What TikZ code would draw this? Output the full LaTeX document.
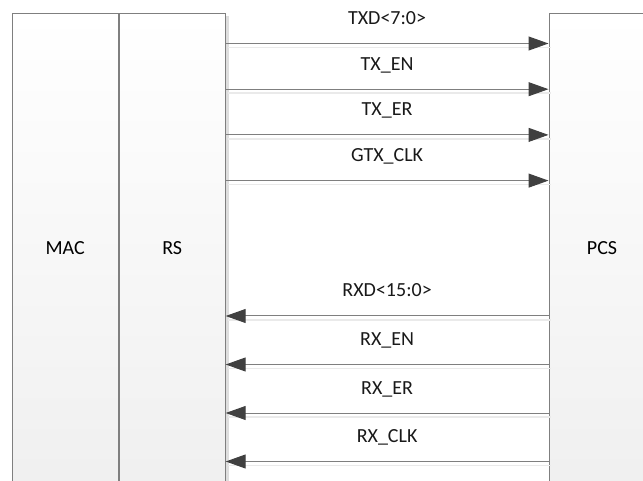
\documentclass[tikz,border=0pt]{standalone}
\usepackage{fontspec}
\setmainfont{Carlito}
\usetikzlibrary{positioning,arrows.meta,shadows}

\definecolor{boxgray}{HTML}{7F7F7F}
\definecolor{tipgray}{HTML}{404040}
\definecolor{shadowgray}{HTML}{EAEAEA}

\begin{document}
\begin{tikzpicture}[
    x=1pt, y=-1pt,
    font=\fontsize{20}{24}\selectfont,
    block/.style={rectangle, draw=boxgray, line width=1pt, minimum width=106pt, minimum height=470pt,
        top color=white, bottom color=black!6, inner sep=0pt,
        drop shadow={shadow xshift=3.5pt, shadow yshift=-3pt, fill=black!13, opacity=1}},
    line/.style={draw=boxgray, line width=1pt},
    tip/.style={-{Triangle[length=20pt, width=14pt, color=tipgray]}},
    tip back/.style={{Triangle[length=20pt, width=14pt, color=tipgray]}-},
    line shadow/.style={draw=shadowgray, line width=1.5pt, transform canvas={shift={(2pt,-4pt)}}},
    edge label/.style={midway, anchor=base, yshift=19pt, inner sep=0pt, text=black!90}
]
    \useasboundingbox (0,0) rectangle (643,481);
    \clip (0,0) rectangle (643,481);

    % Place nodes
    \node [block] (mac) at (65.2,248.5) {MAC};
    \node [block, right=0pt of mac] (rs) {RS};
    \node [block] (pcs) at (602,248.5) {PCS};

    % Draw edges
    \foreach \y/\lbl in {43.5/TXD<7:0>, 89.2/TX\_EN, 134.9/TX\_ER, 180.6/GTX\_CLK} {
        \path [line shadow] (rs.east |- 0,\y) -- (pcs.west |- 0,\y);
        \path [line, tip] (rs.east |- 0,\y) -- (pcs.west |- 0,\y) node [edge label] {\lbl};
    }
    \foreach \y/\lbl in {316/RXD<15:0>, 364.5/RX\_EN, 413/RX\_ER, 461.5/RX\_CLK} {
        \path [line shadow] (rs.east |- 0,\y) -- (pcs.west |- 0,\y);
        \path [line, tip back] (rs.east |- 0,\y) -- (pcs.west |- 0,\y) node [edge label] {\lbl};
    }
\end{tikzpicture}
\end{document}
